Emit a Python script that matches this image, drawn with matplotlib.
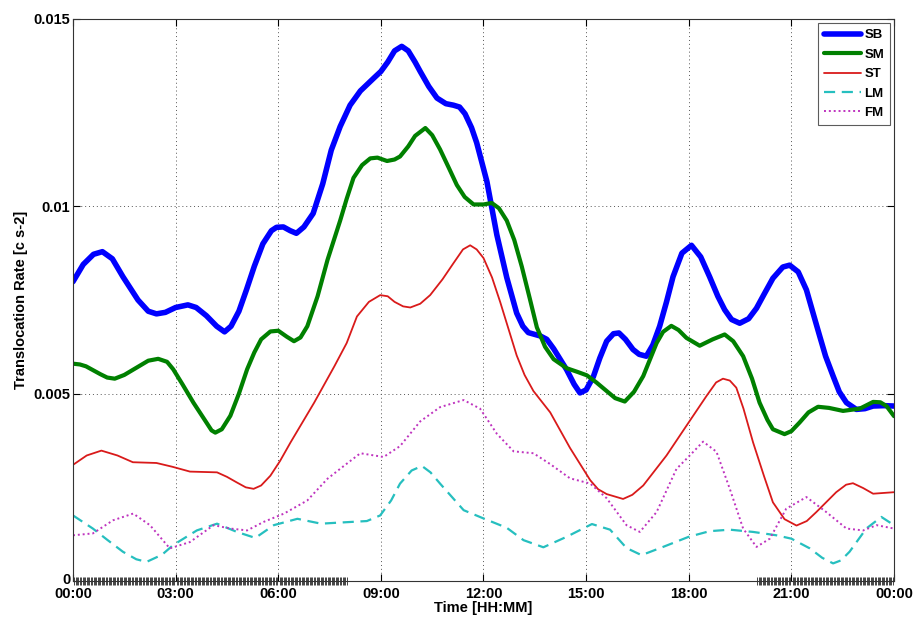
import numpy as np
import matplotlib
matplotlib.use("Agg")
import matplotlib.pyplot as plt
import matplotlib.transforms as mtransforms
from matplotlib.ticker import FixedLocator

plt.rcParams['font.family'] = ['Liberation Sans', 'DejaVu Sans']
plt.rcParams['font.weight'] = 'bold'

# Time of day in hours, values in units of 1e-3
sb_t = [0, 0.3, 0.6, 0.86, 1.15, 1.46, 1.9, 2.2, 2.44, 2.7, 3.0, 3.36, 3.6, 3.9, 4.2, 4.43, 4.62, 4.85,
        5.07, 5.3, 5.55, 5.8, 5.95, 6.15, 6.35, 6.53, 6.75, 7.02, 7.3, 7.55, 7.81, 8.1, 8.4, 8.79, 9.0,
        9.2, 9.4, 9.61, 9.8, 10.0, 10.15, 10.4, 10.64, 10.9, 11.12, 11.3, 11.46, 11.65, 11.8, 12.1,
        12.39, 12.68, 12.97, 13.15, 13.31, 13.66, 13.85, 14.05, 14.43, 14.65, 14.82, 15.0, 15.21,
        15.4, 15.6, 15.8, 15.96, 16.15, 16.37, 16.55, 16.76, 16.95, 17.15, 17.35, 17.54, 17.8, 18.08,
        18.35, 18.61, 18.85, 19.05, 19.25, 19.49, 19.75, 19.98, 20.2, 20.46, 20.75, 20.95, 21.2,
        21.44, 21.65, 21.83, 22.0, 22.22, 22.4, 22.61, 22.9, 23.15, 23.39, 23.7, 24.0]
sb_v = [7.99, 8.45, 8.72, 8.79, 8.6, 8.12, 7.5, 7.2, 7.13, 7.17, 7.3, 7.37, 7.3, 7.08, 6.8, 6.65, 6.8, 7.2,
        7.77, 8.4, 9.0, 9.35, 9.44, 9.45, 9.35, 9.28, 9.45, 9.81, 10.6, 11.5, 12.13, 12.7, 13.08, 13.42,
        13.6, 13.85, 14.15, 14.27, 14.15, 13.85, 13.6, 13.2, 12.89, 12.74, 12.7, 12.65, 12.47, 12.1,
        11.7, 10.66, 9.24, 8.1, 7.15, 6.8, 6.63, 6.54, 6.45, 6.2, 5.64, 5.25, 5.02, 5.1, 5.45, 5.95,
        6.4, 6.6, 6.62, 6.45, 6.18, 6.05, 6.0, 6.3, 6.8, 7.45, 8.12, 8.75, 8.96, 8.65, 8.12, 7.6, 7.24,
        6.98, 6.88, 7.0, 7.28, 7.65, 8.08, 8.38, 8.43, 8.25, 7.77, 7.1, 6.53, 6.0, 5.47, 5.05, 4.76,
        4.58, 4.6, 4.67, 4.68, 4.67]

sm_t = [0, 0.2, 0.38, 0.8, 1.0, 1.22, 1.5, 1.85, 2.2, 2.49, 2.75, 2.93, 3.2, 3.52, 3.85, 4.05, 4.16, 4.35,
        4.6, 4.85, 5.09, 5.3, 5.5, 5.77, 6.0, 6.25, 6.46, 6.65, 6.85, 7.15, 7.44, 7.81, 8.0, 8.2, 8.45,
        8.69, 8.9, 9.18, 9.4, 9.56, 9.8, 10.0, 10.3, 10.5, 10.73, 11.0, 11.22, 11.45, 11.71, 12.0,
        12.24, 12.45, 12.68, 12.9, 13.12, 13.35, 13.56, 13.8, 14.05, 14.43, 14.75, 15.02, 15.3, 15.6,
        15.85, 16.13, 16.4, 16.67, 17.06, 17.25, 17.49, 17.7, 17.93, 18.32, 18.7, 19.05, 19.3, 19.59,
        19.85, 20.07, 20.3, 20.46, 20.8, 21.0, 21.24, 21.5, 21.78, 22.1, 22.51, 23.0, 23.39, 23.6,
        23.78, 24.0]
sm_v = [5.8, 5.78, 5.73, 5.52, 5.43, 5.4, 5.5, 5.69, 5.88, 5.93, 5.85, 5.65, 5.25, 4.76, 4.3, 4.02, 3.96,
        4.05, 4.41, 5.0, 5.65, 6.1, 6.45, 6.66, 6.68, 6.52, 6.4, 6.5, 6.8, 7.6, 8.57, 9.62, 10.2, 10.76,
        11.1, 11.28, 11.3, 11.21, 11.25, 11.33, 11.6, 11.88, 12.09, 11.9, 11.52, 11.0, 10.57, 10.25,
        10.05, 10.05, 10.09, 9.95, 9.62, 9.1, 8.39, 7.55, 6.77, 6.25, 5.92, 5.68, 5.58, 5.49, 5.3, 5.07,
        4.88, 4.79, 5.05, 5.47, 6.35, 6.65, 6.81, 6.7, 6.49, 6.28, 6.45, 6.58, 6.4, 6.0, 5.4, 4.76, 4.3,
        4.05, 3.92, 4.0, 4.23, 4.5, 4.65, 4.62, 4.54, 4.6, 4.78, 4.77, 4.67, 4.4]

st_t = [0, 0.4, 0.83, 1.3, 1.75, 2.44, 2.9, 3.42, 4.21, 4.5, 4.79, 5.05, 5.28, 5.5, 5.77, 6.05, 6.36,
        7.05, 7.64, 8.0, 8.3, 8.65, 8.98, 9.2, 9.4, 9.65, 9.86, 10.15, 10.44, 10.8, 11.12, 11.4, 11.61,
        11.8, 12.0, 12.25, 12.49, 12.97, 13.2, 13.46, 13.95, 14.53, 15.12, 15.35, 15.6, 16.08, 16.35,
        16.67, 17.35, 17.93, 18.52, 18.8, 19.0, 19.2, 19.39, 19.6, 19.88, 20.2, 20.46, 20.8, 21.15,
        21.45, 21.73, 22.31, 22.6, 22.8, 23.1, 23.39, 24.0]
st_v = [3.1, 3.35, 3.48, 3.35, 3.17, 3.15, 3.05, 2.92, 2.9, 2.78, 2.63, 2.5, 2.46, 2.55, 2.81, 3.2, 3.7,
        4.76, 5.73, 6.35, 7.06, 7.45, 7.63, 7.6, 7.45, 7.33, 7.3, 7.4, 7.63, 8.05, 8.48, 8.85, 8.96,
        8.85, 8.62, 8.1, 7.44, 6.02, 5.5, 5.07, 4.5, 3.55, 2.69, 2.45, 2.32, 2.19, 2.3,
        2.55, 3.35, 4.14, 4.94, 5.3, 5.4, 5.35, 5.16, 4.6, 3.7, 2.8, 2.1, 1.65, 1.48,
        1.6, 1.84, 2.37, 2.57, 2.61, 2.48, 2.33, 2.37]

lm_t = [0, 0.58, 1.0, 1.46, 1.85, 2.15, 2.6, 2.93, 3.62, 4.21, 4.79, 5.33, 5.87, 6.56, 7.25, 7.81, 8.59,
        8.98, 9.3, 9.56, 9.9, 10.2, 10.45, 10.73, 11.42, 12.0, 12.68, 13.17, 13.75, 14.43, 15.17, 15.7,
        16.18, 16.62, 17.25, 18.0, 18.61, 19.2, 19.88, 20.56, 21.0, 21.54, 21.9, 22.22, 22.45, 22.7,
        23.19, 23.63, 24.0]
lm_v = [1.75, 1.4, 1.1, 0.78, 0.58, 0.51, 0.7, 0.96, 1.35, 1.53, 1.31, 1.15, 1.49, 1.66, 1.53, 1.56, 1.6,
        1.75, 2.15, 2.6, 2.95, 3.07, 2.9, 2.6, 1.89, 1.67, 1.42, 1.09, 0.9, 1.18, 1.52, 1.37,
        0.88, 0.69, 0.91, 1.18, 1.33, 1.37, 1.31, 1.22, 1.13, 0.87, 0.62, 0.47, 0.55, 0.78,
        1.4, 1.71, 1.49]

fm_t = [0, 0.58, 1.17, 1.76, 2.25, 2.83, 3.42, 4.11, 4.6, 5.09, 5.58, 6.17, 6.85, 7.44, 7.93, 8.4, 9.08,
        9.56, 10.15, 10.73, 11.42, 11.9, 12.39, 12.88, 13.46, 13.95, 14.53, 15.12, 15.6, 16.18, 16.57,
        17.06, 17.64, 18.03, 18.42, 18.81, 19.2, 19.59, 19.98, 20.37, 20.85, 21.44, 22.02, 22.61, 23.1,
        23.49, 24.0]
fm_v = [1.22, 1.27, 1.62, 1.8, 1.49, 0.87, 1.04, 1.49, 1.4, 1.35, 1.58, 1.8, 2.15, 2.73, 3.08, 3.41, 3.31,
        3.6, 4.26, 4.64, 4.83, 4.6, 3.93, 3.46, 3.41, 3.12, 2.74, 2.6, 2.21, 1.49, 1.31,
        1.84, 2.99, 3.35, 3.72, 3.45, 2.46, 1.4, 0.91, 1.13, 1.93, 2.24, 1.84, 1.4, 1.35,
        1.49, 1.4]

series = [
    ("SB", sb_t, sb_v, dict(color=(0, 0, 1), lw=4.0, ls='-')),
    ("SM", sm_t, sm_v, dict(color=(0, 0.5, 0), lw=3.0, ls='-')),
    ("ST", st_t, st_v, dict(color=(0.85, 0.1, 0.1), lw=1.3, ls='-')),
    ("LM", lm_t, lm_v, dict(color=(0.15, 0.75, 0.75), lw=1.6, ls=(0, (5, 3)))),
    ("FM", fm_t, fm_v, dict(color=(0.75, 0.2, 0.75), lw=1.4, ls=(0, (1, 1.5)))),
]

x_ticks = [0, 3, 6, 9, 12, 15, 18, 21, 24]
x_labels = ['00:00', '03:00', '06:00', '09:00', '12:00', '15:00', '18:00', '21:00', '00:00']
y_ticks = [0, 0.005, 0.01, 0.015]
y_labels = ['0', '0.005', '0.01', '0.015']

fig = plt.figure(figsize=(9.14, 6.18), dpi=100)
ax = fig.add_axes([73 / 914, 37 / 618, 821 / 914, 562 / 618])

for name, t, v, st in series:
    ax.plot(t, np.array(v) * 1e-3, label=name, color=st['color'], lw=st['lw'],
            ls=st['ls'], solid_capstyle='round', solid_joinstyle='round')

ax.set_xlim(0, 24)
ax.set_ylim(0, 0.015)
ax.set_xticks(x_ticks)
ax.set_xticklabels(x_labels)
ax.set_yticks(y_ticks)
ax.set_yticklabels(y_labels)

# dense sample ticks along the time axis
minor = np.concatenate([np.arange(0, 8.0001, 0.04), np.arange(20, 24.0001, 0.04)])
ax.xaxis.set_minor_locator(FixedLocator(minor))
ax.tick_params(axis='x', which='minor', direction='inout', length=6, width=0.55,
               color='#111111', top=False)

ax.tick_params(which='major', direction='in', length=5, width=0.8, top=True, right=True,
               labelsize=10.5, pad=2)
ax.tick_params(axis='x', which='major', pad=4.5)
for lbl in ax.get_xticklabels() + ax.get_yticklabels():
    lbl.set_fontweight('bold')

# lift the zero label slightly so it clears the first time label
zero_lbl = ax.get_yticklabels()[0]
zero_lbl.set_transform(zero_lbl.get_transform() +
                       mtransforms.ScaledTranslation(0, 3 / 100, fig.dpi_scale_trans))

ax.grid(True, which='major', ls=(0, (1, 3)), color='#555555', lw=0.7)
for sp in ax.spines.values():
    sp.set_linewidth(0.8)
    sp.set_color('#333333')

ax.set_xlabel('Time [HH:MM]', fontsize=10.5, fontweight='bold', labelpad=0)
ax.set_ylabel('Translocation Rate [c s-2]', fontsize=10.5, fontweight='bold', labelpad=4)

leg = ax.legend(loc='upper right', fontsize=9.5, frameon=True, fancybox=False,
                edgecolor='#333333', handlelength=2.8, handletextpad=0.25,
                borderpad=0.45, labelspacing=0.55, borderaxespad=0.3)
leg.get_frame().set_linewidth(0.8)
for txt in leg.get_texts():
    txt.set_fontweight('bold')

fig.savefig('out.png', dpi=100, facecolor='white')
